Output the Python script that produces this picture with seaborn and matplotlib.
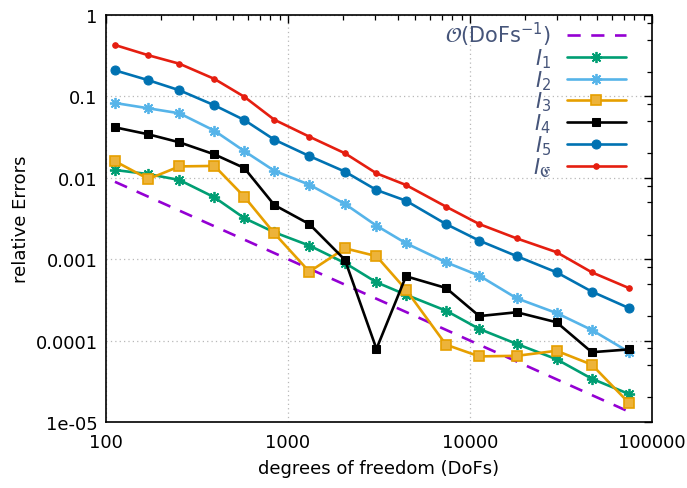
import numpy as np
import pandas as pd
import matplotlib
matplotlib.use("Agg")
import matplotlib.pyplot as plt
import matplotlib.ticker as mticker
import seaborn as sns

# ---------------- data ----------------
dofs = [112, 171, 253, 394, 575, 841, 1310, 2056, 3062, 4448, 7385, 11250,
        18060, 29900, 46700, 75000]

I1 = [0.01247, 0.0111, 0.0094, 0.00576, 0.0032, 0.00214, 0.00147, 0.000898,
      0.00052, 0.000366, 0.000233, 0.000139, 9.1e-5, 5.9e-5, 3.4e-5, 2.2e-5]
I2 = [0.083, 0.0714, 0.062, 0.0379, 0.0213, 0.0122, 0.00822, 0.00477,
      0.00258, 0.00157, 0.000916, 0.000627, 0.000331, 0.000218, 0.000135, 7.2e-5]
I3 = [0.016, 0.00966, 0.0138, 0.014, 0.00586, 0.00208, 0.000702, 0.00136,
      0.00109, 0.000422, 8.9e-5, 6.4e-5, 6.5e-5, 7.5e-5, 5.06e-5, 1.7e-5]
I4 = [0.0417, 0.0342, 0.0273, 0.0194, 0.0132, 0.00463, 0.0027, 0.00098,
      7.9e-5, 0.000617, 0.000443, 0.0002, 0.000223, 0.000168, 7.2e-5, 7.8e-5]
I5 = [0.209, 0.158, 0.119, 0.0778, 0.0513, 0.0294, 0.0185, 0.0119,
      0.00708, 0.00523, 0.0027, 0.00169, 0.00109, 0.00069, 0.0004, 0.00025]
IE = [0.428, 0.32, 0.252, 0.164, 0.099, 0.0517, 0.032, 0.02,
      0.01135, 0.00816, 0.00442, 0.0027, 0.0018, 0.00122, 0.00069, 0.00044]
ref_order = [1.0 / d for d in dofs]   # O(DoFs^-1)

labels = [r'$\mathcal{O}(\mathrm{DoFs}^{-1})$', r'$I_1$', r'$I_2$', r'$I_3$',
          r'$I_4$', r'$I_5$', r'$I_\mathfrak{E}$']

yticks = [1, 0.1, 0.01, 0.001, 0.0001, 1e-5]
yticklabels = ['1', '0.1', '0.01', '0.001', '0.0001', '1e-05']
xticks = [100, 1000, 10000, 100000]
xticklabels = ['100', '1000', '10000', '100000']

# ---------------- style ----------------
sns.set_theme(style="white")
plt.rcParams['font.family'] = ['DejaVu Sans']
plt.rcParams['mathtext.fontset'] = 'dejavusans'

fig = plt.figure(figsize=(6.87, 4.89), dpi=100)
ax = fig.add_axes([106 / 687, 1 - 423 / 489, (652 - 106) / 687, (423 - 16) / 489])

series = [
    (ref_order, dict(color='#9400D3', linestyle=(0, (5, 4)), marker=None)),
    (I1, dict(color='#009E73', marker=(8, 2, 0), markersize=8, markeredgewidth=1.3)),
    (I2, dict(color='#56B4E9', marker=(8, 2, 0), markersize=8, markeredgewidth=1.3)),
    (I3, dict(color='#E69F00', marker='s', markersize=7, markerfacecolor='#EDB33A',
              markeredgecolor='#E69F00', markeredgewidth=1.2)),
    (I4, dict(color='black', marker='s', markersize=5.5)),
    (I5, dict(color='#0072B2', marker='o', markersize=6.5)),
    (IE, dict(color='#E51E10', marker='o', markersize=4)),
]

for (vals, kw), lab in zip(series, labels):
    df = pd.DataFrame({'dofs': dofs, 'err': vals})
    kw = dict(kw)
    color = kw.pop('color')
    ls = kw.pop('linestyle', '-')
    marker = kw.pop('marker')
    if 'markeredgecolor' not in kw and marker is not None:
        kw['markeredgecolor'] = color
    sns.lineplot(data=df, x='dofs', y='err', ax=ax, color=color, linestyle=ls,
                 marker=marker, linewidth=1.9, label=lab, errorbar=None,
                 sort=False, **kw)

ax.set_xscale('log')
ax.set_yscale('log')
ax.set_xlim(100, 100000)
ax.set_ylim(1e-5, 1)

ax.xaxis.set_major_locator(mticker.FixedLocator(xticks))
ax.xaxis.set_major_formatter(mticker.FixedFormatter(xticklabels))
ax.xaxis.set_minor_locator(mticker.LogLocator(base=10, subs=np.arange(2, 10)))
ax.xaxis.set_minor_formatter(mticker.NullFormatter())
ax.yaxis.set_major_locator(mticker.FixedLocator(yticks))
ax.yaxis.set_major_formatter(mticker.FixedFormatter(yticklabels))
ax.yaxis.set_minor_locator(mticker.LogLocator(base=10, subs=[2, 5, 8]))
ax.yaxis.set_minor_formatter(mticker.NullFormatter())

ax.tick_params(which='both', direction='in', top=True, right=True, color='black',
               labelsize=13, labelcolor='black')
ax.tick_params(which='major', length=6, width=1)
ax.tick_params(which='minor', length=3.5, width=0.9)
ax.tick_params(axis='x', pad=8)
ax.tick_params(axis='y', pad=6)

for sp in ax.spines.values():
    sp.set_color('black')
    sp.set_linewidth(1.2)

ax.grid(True, which='major', color='#b8b8b8', linestyle=(0, (1, 2.5)), linewidth=0.9)
ax.set_axisbelow(True)

ax.set_xlabel('degrees of freedom (DoFs)', fontsize=13, color='black', labelpad=6)
ax.set_ylabel('relative Errors', fontsize=13, color='black', labelpad=4)

leg = ax.legend(loc='upper right', bbox_to_anchor=(1 - 26 / 546, 1 - 5 / 407),
                frameon=False, markerfirst=False, fontsize=15,
                handlelength=2.85, handletextpad=0.75, labelspacing=-0.09,
                borderaxespad=0, borderpad=0, labelcolor='#46557a')

fig.savefig('out.png', dpi=100)
